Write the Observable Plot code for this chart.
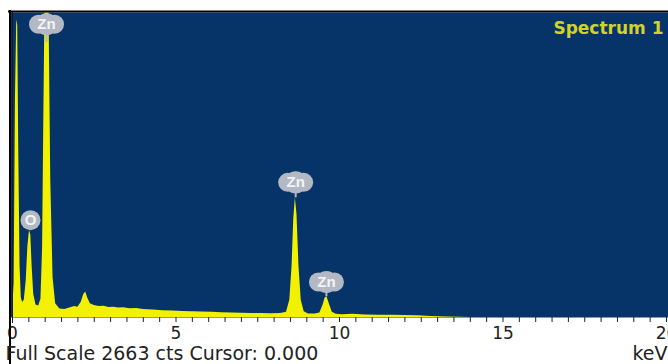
<!DOCTYPE html>
<html>
<head>
<meta charset="utf-8">
<script src="https://cdn.jsdelivr.net/npm/d3@7"></script>
<script src="https://cdn.jsdelivr.net/npm/@observablehq/plot@0.6"></script>
<style>
  html, body { margin: 0; padding: 0; background: white; overflow: hidden; }
  #chart svg { overflow: hidden; }
</style>
</head>
<body>
<div id="chart"></div>
<script>
// Spectrum (energy in keV, counts)
const energies = [0, 0.05, 0.09, 0.13, 0.16, 0.19, 0.23, 0.27, 0.31, 0.36, 0.42, 0.47, 0.52, 0.56, 0.6, 0.65, 0.72, 0.8, 0.87, 0.92, 0.96, 1.0, 1.04, 1.08, 1.12, 1.17, 1.24, 1.32, 1.45, 1.6, 1.75, 1.9, 2.0, 2.1, 2.18, 2.24, 2.3, 2.38, 2.5, 2.65, 2.8, 2.95, 3.1, 3.25, 3.4, 3.6, 3.8, 4.0, 4.3, 4.6, 4.9, 5.2, 5.5, 5.8, 6.1, 6.4, 6.7, 7.0, 7.3, 7.6, 7.9, 8.2, 8.38, 8.48, 8.55, 8.6, 8.65, 8.7, 8.76, 8.83, 8.92, 9.05, 9.25, 9.4, 9.5, 9.56, 9.62, 9.7, 9.78, 9.9, 10.1, 10.4, 10.8, 11.2, 11.6, 12.0, 12.4, 12.8, 13.3, 14, 20];
const counts = [40, 300, 1900, 2600, 2550, 1500, 450, 170, 130, 150, 320, 620, 760, 720, 450, 200, 110, 100, 160, 600, 1800, 2900, 3200, 3200, 2600, 1200, 350, 120, 75, 70, 82, 95, 90, 130, 200, 222, 170, 120, 105, 95, 98, 88, 90, 82, 85, 76, 78, 70, 66, 60, 56, 52, 50, 47, 45, 42, 40, 38, 36, 34, 33, 35, 45, 150, 450, 850, 1045, 900, 450, 150, 50, 30, 30, 40, 110, 170, 180, 110, 45, 28, 25, 28, 22, 20, 20, 17, 15, 8, 4, 0, 0];

// Element labels
const labelNames = ["Zn", "O", "Zn", "Zn"];
const labelEnergy = [1.04, 0.55, 8.66, 9.6];
const labelCounts = [2560, 850, 1180, 310];
const labelPeakCounts = [2400, 760, 1045, 180];

const fullScale = 2663;
const xTicks = d3.range(0, 20.01, 0.5);

const spectrum = energies.map((e, i) => ({e, c: counts[i]}));
const labels = labelNames.map((name, i) => ({name, e: labelEnergy[i], c: labelCounts[i], p: labelPeakCounts[i]}));
const zn = labels.filter(d => d.name === "Zn");
const ox = labels.filter(d => d.name === "O");

const bg = "#063468";
const yellow = "#f2f200";
const badge = "#b3b9c4";

const chart = Plot.plot({
  width: 668,
  height: 364,
  marginLeft: 12,
  marginRight: 2,
  marginTop: 12,
  marginBottom: 47,
  style: {fontFamily: "DejaVu Sans", fontSize: "17px", color: "#222", background: "white"},
  x: {domain: [0, 20], ticks: xTicks, tickSize: 5, tickPadding: 4,
      tickFormat: d => (d % 5 === 0 ? d : ""), label: null},
  y: {domain: [0, fullScale], axis: null},
  marks: [
    Plot.frame({fill: bg, stroke: null, insetLeft: -2, insetRight: -2}),
    Plot.areaY(spectrum, {x: "e", y: "c", fill: yellow, clip: true}),
    Plot.ruleX([0], {stroke: "#1a1a1a", strokeWidth: 1, insetBottom: -6}),
    // label stems
    Plot.ruleX(labels, {x: "e", y1: "p", y2: "c", stroke: badge, strokeWidth: 2}),
    // Zn badges (cloud shapes)
    Plot.dot(zn, {x: "e", y: "c", r: 9.5, dx: -8, fill: badge}),
    Plot.dot(zn, {x: "e", y: "c", r: 9.5, dx: 8, fill: badge}),
    Plot.dot(zn, {x: "e", y: "c", r: 11, fill: badge}),
    Plot.dot(ox, {x: "e", y: "c", r: 10, fill: badge}),
    Plot.text(labels, {x: "e", y: "c", text: "name", fill: "#f4f4f4", fontSize: 15, fontWeight: "bold", fontFamily: "Liberation Sans"}),
    // borders
    Plot.ruleY([fullScale], {stroke: "black", strokeWidth: 2, dy: -1, insetLeft: -4, insetRight: -2}),
    Plot.ruleX([0], {stroke: "black", strokeWidth: 2, dx: -2.5, insetTop: -2, insetBottom: -47}),
    // texts
    Plot.text(["Spectrum 1"], {frameAnchor: "top-right", dx: -3, dy: 9, fill: "#d2d22a", fontSize: 17, fontWeight: "bold", fontFamily: "DejaVu Sans"}),
    Plot.text(["Full Scale 2663 cts Cursor: 0.000"], {frameAnchor: "bottom-left", textAnchor: "start", dx: -7, dy: 42, fill: "#222", fontSize: 19}),
    Plot.text(["keV"], {frameAnchor: "bottom-right", textAnchor: "start", dx: -34, dy: 42, fill: "#222", fontSize: 19})
  ]
});
document.getElementById("chart").appendChild(chart);
</script>
</body>
</html>
